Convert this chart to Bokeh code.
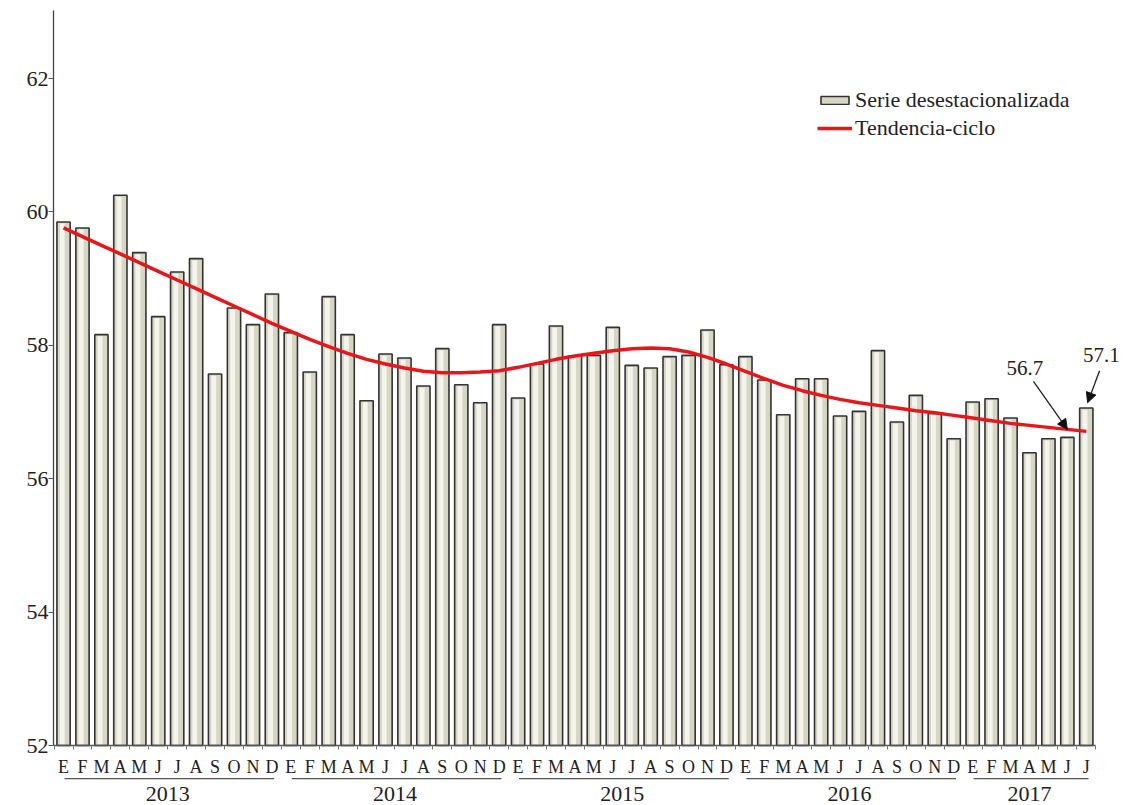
from bokeh.plotting import figure
from bokeh.models import (Range1d, FixedTicker, Legend, LegendItem, Arrow,
                          NormalHead, Label, ColumnDataSource, LinearAxis)
from bokeh.embed import file_html
from bokeh.resources import INLINE
from bokeh.core.properties import value

# ---------------- data ----------------
months = ["E", "F", "M", "A", "M", "J", "J", "A", "S", "O", "N", "D"]
years = ["2013", "2014", "2015", "2016", "2017"]
months_per_year = [12, 12, 12, 12, 7]

serie_2013 = [59.85, 59.76, 58.16, 60.25, 59.39, 58.43, 59.10, 59.30, 57.57, 58.56, 58.31, 58.77]
serie_2014 = [58.19, 57.60, 58.73, 58.16, 57.17, 57.87, 57.81, 57.39, 57.95, 57.41, 57.14, 58.31]
serie_2015 = [57.21, 57.72, 58.29, 57.84, 57.85, 58.27, 57.70, 57.66, 57.83, 57.85, 58.23, 57.71]
serie_2016 = [57.83, 57.48, 56.96, 57.50, 57.50, 56.94, 57.01, 57.92, 56.85, 57.25, 56.98, 56.60]
serie_2017 = [57.15, 57.20, 56.91, 56.39, 56.60, 56.62, 57.06]

tendencia = [59.76, 59.63, 59.50, 59.37, 59.24, 59.11, 58.98, 58.85, 58.72, 58.59, 58.46, 58.33,
             58.21, 58.09, 57.98, 57.88, 57.79, 57.72, 57.66, 57.61, 57.59, 57.59, 57.60, 57.62,
             57.67, 57.73, 57.79, 57.84, 57.88, 57.92, 57.95, 57.96, 57.95, 57.90, 57.82, 57.72,
             57.61, 57.50, 57.40, 57.32, 57.25, 57.19, 57.14, 57.10, 57.06, 57.02, 56.99, 56.95,
             56.91, 56.87, 56.83, 56.80, 56.77, 56.74, 56.71]

y_ticks = [52, 54, 56, 58, 60, 62]

serie = serie_2013 + serie_2014 + serie_2015 + serie_2016 + serie_2017
n = len(serie)
idx = list(range(n))
month_labels = [months[i % 12] for i in idx]

FONT = "Liberation Serif"
TXT = "#222222"
Y_BASE = 52
Y_TOP = 63.02
PX_PER_UNIT = 66.7          # vertical scale of the frame
X_LEFT = -0.53
X_AXIS_END = 54.5

# ---------------- figure ----------------
W, H = 1125, 805
BL, BT = 53, 10
frame_w = W - BL
frame_h = H - BT
y_bottom = Y_TOP - frame_h / PX_PER_UNIT
x_right = X_LEFT + frame_w / 18.94

p = figure(width=W, height=H, output_backend="svg", toolbar_location=None,
           x_range=Range1d(X_LEFT, x_right), y_range=Range1d(y_bottom, Y_TOP),
           x_axis_location=None,
           min_border_left=BL, min_border_right=0, min_border_top=BT, min_border_bottom=0)
p.xgrid.visible = False
p.ygrid.visible = False
p.outline_line_color = None

src = ColumnDataSource(dict(
    x=idx,
    top=serie,
    hl_x=[i - 0.07 for i in idx],
    hl_top=[v - 0.025 for v in serie],
))
bars = p.vbar(x="x", top="top", bottom=Y_BASE, width=0.70, source=src,
              fill_color="#d6d6c4", line_color="#333333", line_width=1.6)
p.vbar(x="hl_x", top="hl_top", bottom=Y_BASE + 0.02, width=0.26, source=src,
       fill_color="#f4f4ec", line_color=None)

trend = p.line(idx, tendencia, line_color="#e8161b", line_width=3.5)

# y axis
p.yaxis.ticker = FixedTicker(ticks=y_ticks)
p.yaxis.bounds = (Y_BASE, Y_TOP)
p.yaxis.major_label_text_font = FONT
p.yaxis.major_label_text_font_size = "22px"
p.yaxis.major_label_text_color = TXT
p.yaxis.major_tick_out = 5
p.yaxis.major_tick_in = 0
p.yaxis.minor_tick_out = 0
p.yaxis.minor_tick_in = 0
p.yaxis.major_tick_line_color = "#555555"
p.yaxis.axis_line_color = "#444444"
p.yaxis.axis_line_width = 1.3
p.yaxis.major_label_standoff = 0

# x axis (month letters), fixed at the base value
xaxis = LinearAxis(fixed_location=Y_BASE, bounds=(X_LEFT, X_AXIS_END))
xaxis.ticker = FixedTicker(ticks=idx, minor_ticks=[i - 0.5 for i in range(n + 1)])
xaxis.major_label_overrides = {i: month_labels[i] for i in idx}
xaxis.major_tick_out = 0
xaxis.major_tick_in = 0
xaxis.major_tick_line_color = None
xaxis.minor_tick_out = 4
xaxis.minor_tick_in = 0
xaxis.minor_tick_line_color = "#777777"
xaxis.axis_line_color = "#555555"
xaxis.axis_line_width = 1.3
xaxis.major_label_text_font = FONT
xaxis.major_label_text_font_size = "18px"
xaxis.major_label_text_color = TXT
xaxis.major_label_standoff = 7
p.add_layout(xaxis, "below")

# year underlines and labels
starts = []
s = 0
for c in months_per_year:
    starts.append(s)
    s += c
x0 = [st + 0.05 for st in starts]
x1 = [st + c - 1 + 0.12 for st, c in zip(starts, months_per_year)]
centers = [(st + st + c - 1) / 2 for st, c in zip(starts, months_per_year)]
y_line = Y_BASE - 33 / PX_PER_UNIT
y_year = Y_BASE - 48 / PX_PER_UNIT

p.segment(x0=x0, y0=[y_line] * len(years), x1=x1, y1=[y_line] * len(years),
          line_color="#555555", line_width=1.3)
p.text(x=centers, y=[y_year] * len(years), text=years,
       text_font=value(FONT), text_font_size="22px", text_color=TXT,
       text_align="center", text_baseline="middle")

# legend
legend = Legend(items=[LegendItem(label="Serie desestacionalizada", renderers=[bars]),
                       LegendItem(label="Tendencia-ciclo", renderers=[trend])],
                location=(764, 664))
legend.label_text_font = FONT
legend.label_text_font_size = "22px"
legend.label_text_color = TXT
legend.glyph_width = 35
legend.glyph_height = 10
legend.label_height = 22
legend.label_standoff = 3
legend.spacing = 2
legend.padding = 0
legend.margin = 0
legend.border_line_color = None
legend.background_fill_alpha = 0
p.add_layout(legend)

# annotations
head1 = NormalHead(size=10, fill_color="#111111", line_color="#111111")
p.add_layout(Arrow(end=head1, x_start=(n - 2) - 1.79, y_start=tendencia[n - 2] + 0.72,
                   x_end=n - 2, y_end=tendencia[n - 2],
                   line_color="#222222", line_width=1.3))
p.add_layout(Label(x=(n - 2) - 2.24, y=tendencia[n - 2] + 0.92, text=f"{tendencia[-1]:.1f}",
                   text_font=FONT, text_font_size="21px", text_color=TXT,
                   text_align="center", text_baseline="middle"))

head2 = NormalHead(size=10, fill_color="#111111", line_color="#111111")
p.add_layout(Arrow(end=head2, x_start=(n - 1) + 0.70, y_start=serie[-1] + 0.56,
                   x_end=(n - 1) + 0.07, y_end=serie[-1] + 0.08,
                   line_color="#222222", line_width=1.3))
p.add_layout(Label(x=(n - 1) + 0.80, y=serie[-1] + 0.79, text=f"{serie[-1]:.1f}",
                   text_font=FONT, text_font_size="21px", text_color=TXT,
                   text_align="center", text_baseline="middle"))

open("out.html", "w").write(file_html(p, INLINE))
